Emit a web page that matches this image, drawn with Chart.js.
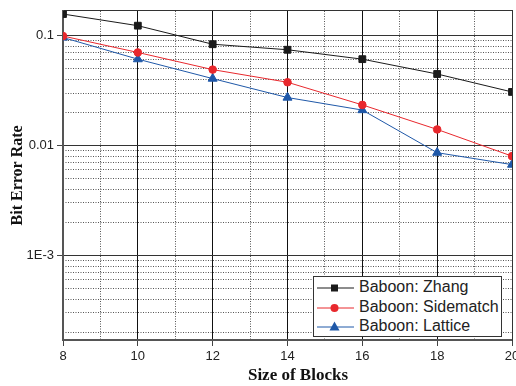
<!DOCTYPE html>
<html>
<head>
<meta charset="utf-8">
<script src="https://cdn.jsdelivr.net/npm/chart.js@4.4.1/dist/chart.umd.min.js"></script>
<style>
  html, body { margin: 0; padding: 0; background: #fff; }
  #wrap { position: relative; width: 516px; height: 386px; overflow: hidden; }
  #xtitle { position: absolute; left: 198px; width: 200px; top: 365px; text-align: center;
    font: bold 17px "Liberation Serif", "Times New Roman", serif; color: #111; }
  #legend { position: absolute; left: 313px; top: 276px; width: 187px; height: 59px;
    border: 1px solid #333; background: #fff; font: 16px "Liberation Sans", Arial, sans-serif; color: #222; }
  #legend .row { position: absolute; left: 2px; height: 20px; line-height: 20px; white-space: nowrap; }
  #legend svg { position: absolute; left: 0; top: 0; }
  #legend span { position: absolute; left: 43px; top: -1px; }
</style>
</head>
<body>
<div id="wrap">
  <canvas id="ber" width="530" height="386"></canvas>
  <div id="xtitle">Size of Blocks</div>
  <div id="legend"></div>
</div>
<script>
// block sizes on the x axis
var blockSizes = [8, 10, 12, 14, 16, 18, 20];

// bit error rates
var zhang     = [0.157, 0.123, 0.0834, 0.0743, 0.061, 0.0447, 0.0307];
var sidematch = [0.099, 0.0702, 0.049, 0.0376, 0.0234, 0.0140, 0.0080];
var lattice   = [0.096, 0.061, 0.0406, 0.0273, 0.021, 0.0086, 0.0067];

var seriesNames = ["Baboon: Zhang", "Baboon: Sidematch", "Baboon: Lattice"];

// ticks
var xMajorTicks = [8, 10, 12, 14, 16, 18, 20];
var xMinorTicks = [9, 11, 13, 15, 17, 19];
var yMajorTicks = [0.001, 0.01, 0.1];
var yMajorLabels = ["1E-3", "0.01", "0.1"];
var yMinorTicks = [0.0002, 0.0003, 0.0004, 0.0005, 0.0006, 0.0007, 0.0008, 0.0009,
                   0.002, 0.003, 0.004, 0.005, 0.006, 0.007, 0.008, 0.009,
                   0.02, 0.03, 0.04, 0.05, 0.06, 0.07, 0.08, 0.09];

var yMin = 0.00017, yMax = 0.168;

function points(vals) {
  return blockSizes.map(function (b, i) { return { x: b, y: vals[i] }; });
}

function setTicks(list) {
  return function (scale) {
    scale.ticks = list.map(function (v) { return { value: v }; });
  };
}

var tickFont = { family: "'Liberation Sans', Arial, sans-serif", size: 13 };
var minorGrid = { color: "#555", lineWidth: 1, drawTicks: false };

var colors = ["#1a1a1a", "#e8282d", "#1f58a8"];
var markers = ["rect", "circle", "triangle"];
var radii = [4.8, 3.8, 5.2];

var ctx = document.getElementById("ber").getContext("2d");
var chart = new Chart(ctx, {
  type: "line",
  data: {
    datasets: [zhang, sidematch, lattice].map(function (vals, i) {
      return {
        label: seriesNames[i],
        data: points(vals),
        borderColor: colors[i],
        backgroundColor: colors[i],
        borderWidth: 1,
        pointStyle: markers[i],
        pointRadius: radii[i],
        pointBorderWidth: 1,
        tension: 0
      };
    })
  },
  options: {
    responsive: false,
    animation: false,
    layout: { padding: { top: 9, right: 18, left: 0, bottom: 0 } },
    plugins: { legend: { display: false }, tooltip: { enabled: false } },
    scales: {
      x: {
        type: "linear", position: "bottom", min: 8, max: 20,
        afterBuildTicks: setTicks(xMajorTicks),
        afterFit: function (s) { s.height = 46; },
        grid: { color: "#111", lineWidth: 1, tickLength: 6, tickColor: "#444" },
        border: { color: "#555", width: 2 },
        ticks: { font: tickFont, color: "#222", padding: 3, maxRotation: 0, autoSkip: false }
      },
      x2: {
        type: "linear", position: "top", min: 8, max: 20,
        afterBuildTicks: setTicks(xMinorTicks),
        afterFit: function (s) { s.height = 0; },
        grid: minorGrid,
        border: { color: "#333", width: 1, dash: [1, 1.5] },
        ticks: { display: false }
      },
      y: {
        type: "logarithmic", position: "left", min: yMin, max: yMax,
        afterBuildTicks: setTicks(yMajorTicks),
        afterFit: function (s) { s.width = 63; },
        grid: { color: "#333", lineWidth: 1, tickLength: 6, tickColor: "#444" },
        border: { color: "#555", width: 2 },
        ticks: {
          font: tickFont, color: "#222", padding: 3, autoSkip: false,
          callback: function (v) { return yMajorLabels[yMajorTicks.indexOf(v)]; }
        },
        title: {
          display: true, text: "Bit Error Rate", color: "#111",
          font: { family: "'Liberation Serif', 'Times New Roman', serif", size: 16, weight: "bold" },
          padding: { top: 8, bottom: 0 }
        }
      },
      y2: {
        type: "logarithmic", position: "right", min: yMin, max: yMax,
        afterBuildTicks: setTicks(yMinorTicks),
        afterFit: function (s) { s.width = 0; },
        grid: minorGrid,
        border: { color: "#333", width: 1, dash: [1, 1.5] },
        ticks: { display: false }
      }
    }
  }
});

// legend box drawn as html next to the canvas
var legend = document.getElementById("legend");
seriesNames.forEach(function (name, i) {
  var row = document.createElement("div");
  row.className = "row";
  row.style.top = (1 + i * 19.5) + "px";
  var mark;
  if (markers[i] === "rect") mark = '<rect x="15" y="6.5" width="7" height="7" fill="' + colors[i] + '"/>';
  else if (markers[i] === "circle") mark = '<circle cx="18.5" cy="10" r="4" fill="' + colors[i] + '"/>';
  else mark = '<polygon points="18.5,4.5 23.5,13.5 13.5,13.5" fill="' + colors[i] + '"/>';
  row.innerHTML = '<svg width="40" height="20"><line x1="1" y1="10" x2="38" y2="10" stroke="' + colors[i] +
    '" stroke-width="1"/>' + mark + '</svg><span>' + name + '</span>';
  legend.appendChild(row);
});
</script>
</body>
</html>
